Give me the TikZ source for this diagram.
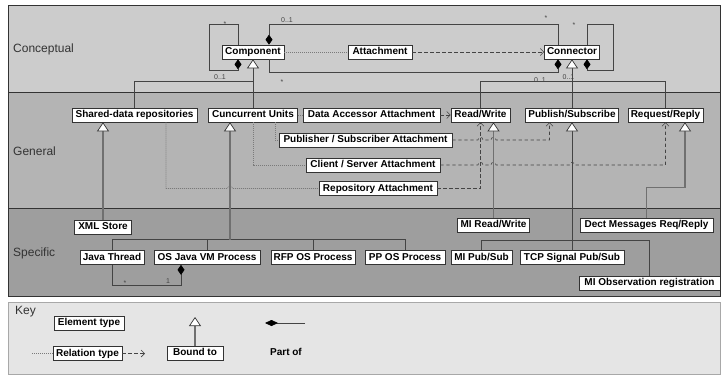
\documentclass[tikz,border=0pt]{standalone}
\usepackage{fontspec}
\setmainfont{Liberation Sans}
\usetikzlibrary{arrows.meta,calc}
\definecolor{bandA}{HTML}{CCCCCC}
\definecolor{bandB}{HTML}{B4B4B4}
\definecolor{bandC}{HTML}{9E9E9E}
\definecolor{keybg}{HTML}{E5E5E5}
\definecolor{keyframe}{HTML}{A8A8A8}
\definecolor{ink}{HTML}{333333}
\definecolor{lineC}{HTML}{444444}
\definecolor{genC}{HTML}{707070}
\definecolor{dotC}{HTML}{7A7A7A}

\begin{document}
\begin{tikzpicture}[x=1pt,y=-1pt,
  elem/.style={draw=ink,fill=white,line width=0.7pt,
    font=\fontsize{10}{12}\selectfont\bfseries,
    minimum height=14pt,inner ysep=0pt,inner xsep=2pt,
    text height=7.3pt,text depth=1.9pt},
  bandlabel/.style={font=\fontsize{12}{14}\selectfont,text=ink,anchor=west,inner sep=0pt},
  mult/.style={font=\fontsize{7}{8}\selectfont,text=lineC,inner sep=0pt},
  conline/.style={draw=lineC,line width=0.7pt},
  grayline/.style={draw=genC,line width=1.1pt},
  partof/.style={conline,-{Diamond[length=10pt,width=7pt,color=black,fill=black]}},
  trihead/.style={-{Triangle[length=9pt,width=12pt,color=ink,fill=white,line width=0.7pt]}},
  gen/.style={conline,trihead},
  gengray/.style={grayline,trihead},
  rel/.style={draw=dotC,line width=0.6pt,dash pattern=on 1pt off 1pt},
  uses/.style={draw=lineC,line width=0.6pt,dash pattern=on 3.3pt off 2.7pt,
    -{Straight Barb[length=3.5pt,width=7pt]}},
]
\useasboundingbox (0,0) rectangle (722,375);
\fill[white] (0,0) rectangle (722,375);

% ---------- layers ----------
\fill[bandA] (8,5) rectangle (720,92);
\fill[bandB] (8,92) rectangle (720,208);
\fill[bandC] (8,208) rectangle (720,296);
\draw[ink,line width=0.8pt] (8,92) -- (720,92);
\draw[ink,line width=0.8pt] (8,208) -- (720,208);
\draw[ink,line width=1pt] (8,5) rectangle (720,296);

\node[bandlabel] (lblC) at (13,49) {Conceptual};
\node[bandlabel] (lblG) at (13,151) {General};
\node[bandlabel] (lblS) at (13,253) {Specific};

% ---------- conceptual elements ----------
\node[elem,minimum width=62pt] (comp) at (253,52) {Component};
\node[elem,minimum width=64pt] (attach) at (380,52) {Attachment};
\node[elem,minimum width=55pt] (conn) at (572,52) {Connector};

% ---------- general elements ----------
\node[elem,minimum width=125pt] (shared) at (134.5,115) {Shared-data repositories};
\node[elem,minimum width=89pt] (cunits) at (253,115) {Cuncurrent Units};
\node[elem,minimum width=137pt] (daa) at (371.5,115) {Data Accessor Attachment};
\node[elem,minimum width=59pt] (rw) at (480.5,115) {Read/Write};
\node[elem,minimum width=93pt] (pubsub) at (572,115) {Publish/Subscribe};
\node[elem,minimum width=75pt] (reqrep) at (665.5,115) {Request/Reply};
\node[elem,minimum width=173pt] (psa) at (365.5,140) {Publisher / Subscriber Attachment};
\node[elem,minimum width=134pt] (csa) at (373,165) {Client / Server Attachment};
\node[elem,minimum width=118pt] (repa) at (378,188.5) {Repository Attachment};

% ---------- specific elements ----------
\node[elem,minimum width=57pt] (xml) at (103,227) {XML Store};
\node[elem,minimum width=72pt] (mirw) at (493.5,225) {MI Read/Write};
\node[elem,minimum width=133pt] (dect) at (646.5,225) {Dect Messages Req/Reply};
\node[elem,minimum width=64pt] (jthread) at (112,257.5) {Java Thread};
\node[elem,minimum width=106pt] (osjvm) at (207,257.5) {OS Java VM Process};
\node[elem,minimum width=84pt] (rfp) at (313,257.5) {RFP OS Process};
\node[elem,minimum width=80pt] (ppos) at (405,257.5) {PP OS Process};
\node[elem,minimum width=61pt] (mipubsub) at (481.5,257.5) {MI Pub/Sub};
\node[elem,minimum width=104pt] (tcp) at (572,257.5) {TCP Signal Pub/Sub};
\node[elem,minimum width=141pt] (miobs) at (649.5,283) {MI Observation registration};

% ---------- conceptual relations ----------
% component contains components
\draw[partof] ([xshift=-15pt]comp.north) -- ++(0,-20) -- ++(-29,0) -- ++(0,46)
  -- ++(29,0) -- ([xshift=-15pt]comp.south);
\node[mult] (mA) at (225,24.5) {*};
\node[mult] (mB) at (220,77.5) {0..1};
% component part of connector
\draw[partof] ([xshift=-14pt]conn.north) -- ++(0,-20) -| ([xshift=16pt]comp.north);
\node[mult] (mC) at (287,20) {0..1};
\node[mult] (mD) at (546,18.5) {*};
% connector part of component
\draw[partof] ([xshift=16pt]comp.south) -- ++(0,13) -| ([xshift=-14pt]conn.south);
\node[mult] (mE) at (282,82) {*};
% connector contains connectors
\draw[partof] ([xshift=15pt]conn.north) -- ++(0,-20) -- ++(26,0) -- ++(0,46)
  -- ++(-26,0) -- ([xshift=15pt]conn.south);
\node[mult] (mF) at (574,25) {*};

\draw[rel] (comp.east) -- (attach.west);
\draw[uses] (attach.east) -- (conn.west);

% ---------- bound to (conceptual <- general) ----------
\draw[conline] (shared.north) -- ++(0,-26) -| (cunits.north);
\draw[gen] (cunits.north) -- (comp.south);
\draw[conline] (rw.north) -- ++(0,-26) -| (reqrep.north);
\draw[gen] (pubsub.north) -- (conn.south);
\node[mult] (mG) at (540,80) {0..1};
\node[mult] (mH) at (568.5,77.5) {0..1};

% ---------- general relations ----------
\draw[rel] (cunits.east) -- (daa.west);
\draw[uses] (daa.east) -- (rw.west);
\draw[rel] ([xshift=22pt]cunits.south) |- (psa.west);
\draw[rel] (cunits.south) |- (csa.west);
\draw[rel] ([xshift=31.5pt]shared.south) |- (227.5,188.5)
  .. controls (227.5,185) and (232.5,185) .. (232.5,188.5) -- (repa.west);

\draw[uses] (psa.east) -- (478,140) .. controls (478,136.5) and (483,136.5) .. (483,140)
  -- (491,140) .. controls (491,136.5) and (496,136.5) .. (496,140)
  -| ([xshift=-22.5pt]pubsub.south);
\draw[uses] (csa.east) -- (478,165) .. controls (478,161.5) and (483,161.5) .. (483,165)
  -- (491,165) .. controls (491,161.5) and (496,161.5) .. (496,165)
  -- (569.5,165) .. controls (569.5,161.5) and (574.5,161.5) .. (574.5,165)
  -| (reqrep.south);
\draw[uses] (repa.east) -| (rw.south);

% ---------- bound to (general <- specific) ----------
\draw[gengray] (xml.north) -- (xml.north |- shared.south);
\draw[gengray] (mirw.north) -- (mirw.north |- rw.south);
\draw[gengray] (dect.north) -- ++(0,-30) -| ([xshift=19.5pt]reqrep.south);

\path ([xshift=-23pt]cunits.south) coordinate (cutri);
\draw[conline] (jthread.north) -- ++(0,-10.5) coordinate (jbus) -| (ppos.north);
\draw[conline] (osjvm.north) -- (osjvm.north |- jbus);
\draw[conline] (rfp.north) -- (rfp.north |- jbus);
\draw[gengray] (jbus -| cutri) -- (cutri);

\draw[conline] (mipubsub.north) -- ++(0,-10) -| (miobs.north);
\draw[gen] (tcp.north) -- (pubsub.south);

% thread part of VM process
\draw[partof] (jthread.south) -- ++(0,20) -| ([xshift=-26pt]osjvm.south);
\node[mult] (mI) at (125,283) {*};
\node[mult] (mJ) at (168,281) {1};

% ---------- key ----------
\draw[keyframe,fill=keybg,line width=0.8pt] (8,302) rectangle (720,374);
\node[bandlabel] (keylbl) at (15,312) {Key};
\node[elem,minimum width=70pt] (kelem) at (89,323) {Element type};
\node[elem,minimum width=69pt] (krel) at (87.5,353.5) {Relation type};
\coordinate (kdot) at (32,353.5);
\coordinate (karrow) at (145,353.5);
\draw[rel] (kdot) -- (krel.west);
\draw[uses] (krel.east) -- (karrow);
\node[elem,minimum width=56pt] (kbound) at (195,353) {Bound to};
\coordinate (ktri) at (195,317);
\draw[gengray] (kbound.north) -- (ktri);
\coordinate (kpartA) at (305,323);
\coordinate (kpartB) at (265,323);
\draw[conline,-{Diamond[length=13pt,width=6pt,color=black,fill=black]}] (kpartA) -- (kpartB);
\node[font=\fontsize{10}{12}\selectfont\bfseries,inner sep=0pt] (kpart) at (286,352) {Part of};
\end{tikzpicture}
\end{document}
